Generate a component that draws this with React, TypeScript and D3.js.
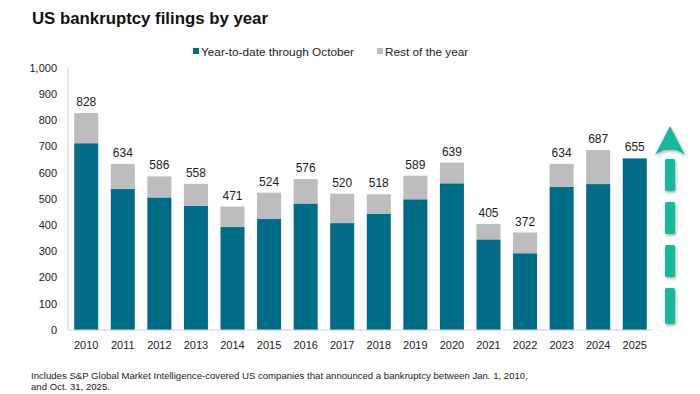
import React, { useEffect, useRef } from 'react';
import * as d3 from 'd3';

const YEARS = ['2010', '2011', '2012', '2013', '2014', '2015', '2016', '2017', '2018', '2019', '2020', '2021', '2022', '2023', '2024', '2025'];
const TOTALS = [828, 634, 586, 558, 471, 524, 576, 520, 518, 589, 639, 405, 372, 634, 687, 655];
const YTD_OCT = [713, 538, 506, 474, 393, 425, 483, 408, 443, 499, 560, 346, 293, 547, 557, 655];
const Y_TICKS = [0, 100, 200, 300, 400, 500, 600, 700, 800, 900, 1000];
const LEGEND = ['Year-to-date through October', 'Rest of the year'];

const W = 700;
const H = 394;
const margin = { top: 68, right: 47, bottom: 64, left: 68 };
const TEAL = '#006d86';
const GREY = '#bdbdc0';
const ARROW = '#17b99b';
const FONT = '"Liberation Sans", Arial, sans-serif';

export default function App() {
  const ref = useRef<SVGSVGElement>(null);

  useEffect(() => {
    const svg = d3.select(ref.current);
    svg.selectAll('*').remove();

    const chartW = W - margin.left - margin.right;
    const chartH = H - margin.top - margin.bottom;

    const x = d3.scaleBand().domain(YEARS).range([0, chartW]).paddingInner(0.343).paddingOuter(0.17);
    const y = d3.scaleLinear().domain([0, 1000]).range([chartH, 0]);

    svg.append('text')
      .attr('x', 32).attr('y', 24)
      .attr('font-family', FONT).attr('font-size', 16.8).attr('font-weight', 700)
      .attr('fill', '#111')
      .text('US bankruptcy filings by year');

    // legend
    const leg = svg.append('g').attr('font-family', FONT).attr('font-size', 11.8).attr('fill', '#222');
    const legX = [193, 377];
    LEGEND.forEach((name, i) => {
      leg.append('rect').attr('x', legX[i]).attr('y', 48).attr('width', 6).attr('height', 6)
        .attr('fill', i === 0 ? TEAL : GREY);
      leg.append('text').attr('x', legX[i] + 8).attr('y', 55.5).text(name);
    });

    const g = svg.append('g').attr('transform', `translate(${margin.left},${margin.top})`);

    // y axis
    g.append('line').attr('x1', 0).attr('x2', 0).attr('y1', 0).attr('y2', chartH).attr('stroke', '#d0d0d0');
    g.append('g').selectAll('text').data(Y_TICKS).join('text')
      .attr('x', -11).attr('y', d => y(d)).attr('dy', '0.35em')
      .attr('text-anchor', 'end')
      .attr('font-family', FONT).attr('font-size', 11).attr('fill', '#222')
      .text(d => d3.format(',')(d));

    // bars
    g.append('g').selectAll('rect').data(YEARS).join('rect')
      .attr('x', d => x(d)!).attr('width', x.bandwidth())
      .attr('y', (d, i) => y(YTD_OCT[i])).attr('height', (d, i) => chartH - y(YTD_OCT[i]))
      .attr('fill', TEAL);
    g.append('g').selectAll('rect').data(YEARS).join('rect')
      .attr('x', d => x(d)!).attr('width', x.bandwidth())
      .attr('y', (d, i) => y(TOTALS[i])).attr('height', (d, i) => y(YTD_OCT[i]) - y(TOTALS[i]))
      .attr('fill', GREY);

    g.append('g').selectAll('text').data(YEARS).join('text')
      .attr('x', d => x(d)! + x.bandwidth() / 2)
      .attr('y', (d, i) => y(TOTALS[i]) - 7)
      .attr('text-anchor', 'middle')
      .attr('font-family', FONT).attr('font-size', 12).attr('fill', '#222')
      .text((d, i) => TOTALS[i]);

    // x axis
    g.append('line').attr('x1', 0).attr('x2', chartW).attr('y1', chartH).attr('y2', chartH).attr('stroke', '#d0d0d0');
    g.append('g').selectAll('text').data(YEARS).join('text')
      .attr('x', d => x(d)! + x.bandwidth() / 2)
      .attr('y', chartH + 15).attr('dy', '0.35em')
      .attr('text-anchor', 'middle')
      .attr('font-family', FONT).attr('font-size', 11).attr('fill', '#222')
      .text(d => d);

    // dashed upward arrow
    const defs = svg.append('defs');
    const f = defs.append('filter').attr('id', 'sh').attr('x', '-50%').attr('y', '-50%').attr('width', '200%').attr('height', '200%');
    f.append('feDropShadow').attr('dx', 1).attr('dy', 1.5).attr('stdDeviation', 1.5).attr('flood-color', '#000').attr('flood-opacity', 0.35);

    const arr = svg.append('g').attr('filter', 'url(#sh)').attr('fill', ARROW);
    arr.append('path').attr('d', 'M670,126 L685,155 Q677,149 670,150 Q663,149 655,155 Z');
    [159, 202, 245, 288].forEach((top, i) => {
      arr.append('rect').attr('x', 665).attr('y', top).attr('width', 10).attr('height', i === 3 ? 36 : 32).attr('rx', 1.5);
    });

    // footnote
    const note = svg.append('g').attr('font-family', FONT).attr('font-size', 9.6).attr('fill', '#222');
    note.append('text').attr('x', 31).attr('y', 379)
      .text('Includes S&P Global Market Intelligence-covered US companies that announced a bankruptcy between Jan. 1, 2010,');
    note.append('text').attr('x', 31).attr('y', 390).text('and Oct. 31, 2025.');
  }, []);

  return (
    <svg ref={ref} width={W} height={H} style={{ position: 'absolute', left: 0, top: 0, background: '#fff' }} />
  );
}
